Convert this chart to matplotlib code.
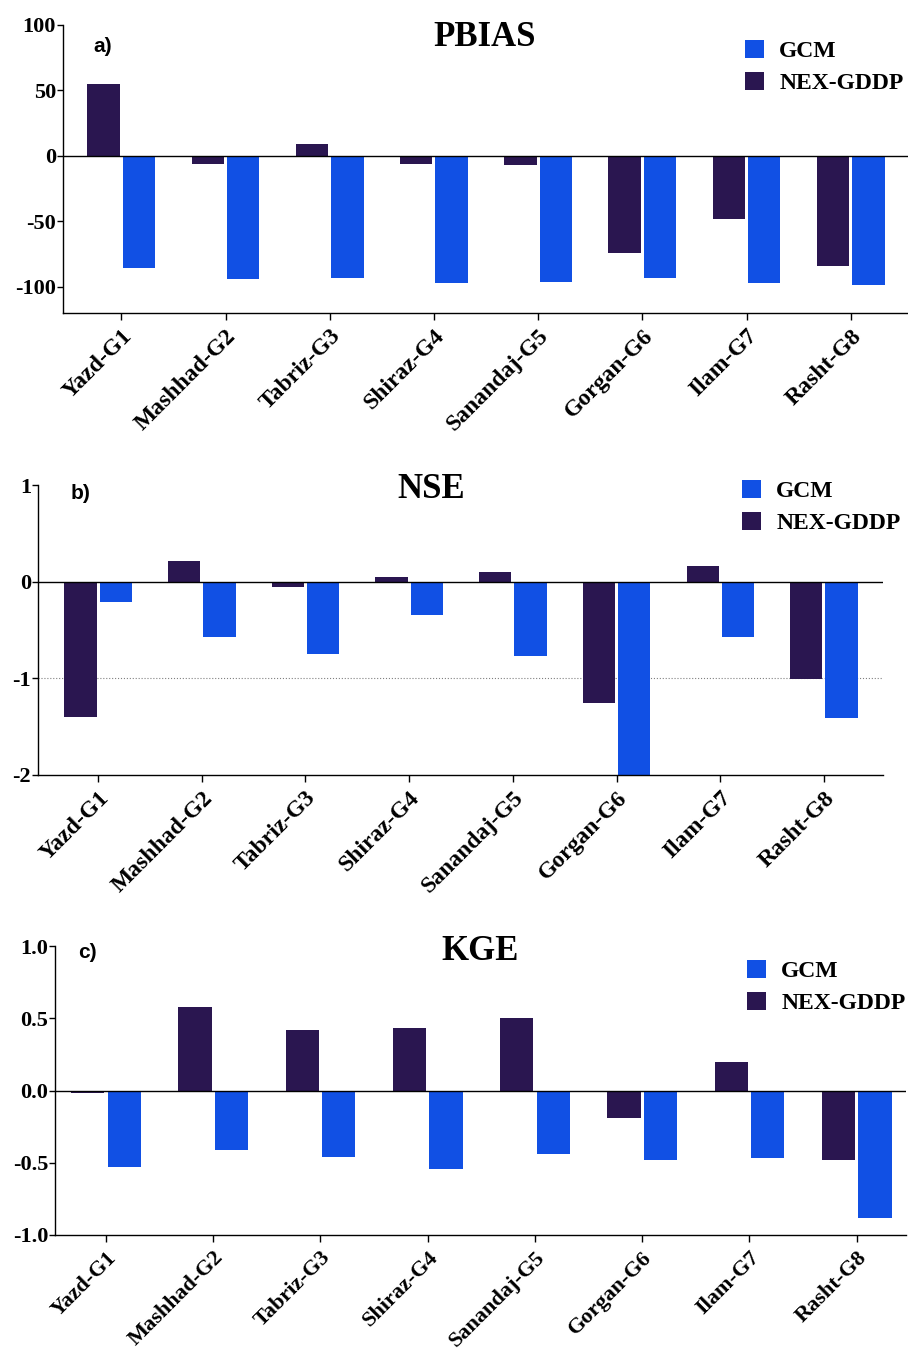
import numpy as np
import matplotlib
matplotlib.use('Agg')
import matplotlib.pyplot as plt

stations = ['Yazd-G1', 'Mashhad-G2', 'Tabriz-G3', 'Shiraz-G4',
            'Sanandaj-G5', 'Gorgan-G6', 'Ilam-G7', 'Rasht-G8']

# PBIAS
pbias_nex = [55, -6.5, 9.4, -6.5, -7, -74, -48, -84]
pbias_gcm = [-86, -94, -93.5, -97.4, -96, -93.5, -97.2, -98.4]
# NSE
nse_nex = [-1.40, 0.21, -0.05, 0.05, 0.10, -1.25, 0.16, -1.01]
nse_gcm = [-0.21, -0.57, -0.75, -0.34, -0.77, -2.0, -0.57, -1.41]
# KGE
kge_nex = [-0.02, 0.58, 0.42, 0.43, 0.50, -0.19, 0.20, -0.48]
kge_gcm = [-0.53, -0.41, -0.46, -0.54, -0.44, -0.48, -0.47, -0.88]

c_gcm = '#1150E4'
c_nex = '#2A1650'
serif = 'Liberation Serif'
sans = 'Liberation Sans'

W, H = 908, 1355
fig = plt.figure(figsize=(W / 100, H / 100), dpi=100)


def fr(x, y):
    return x / W, 1 - y / H


panels = [
    dict(box=(63, 25, 908, 313), xlim=(-0.56, 7.55), ylim=(-120, 100),
         yticks=[-100, -50, 0, 50, 100], fmt='{:.0f}', title='PBIAS',
         title_xy=(485, 37), lab='a)', lab_xy=(103, 47), leg_xy=(745, 40),
         xfs=17, nex=pbias_nex, gcm=pbias_gcm),
    dict(box=(38, 485, 883, 775), xlim=(-0.58, 7.57), ylim=(-2, 1),
         yticks=[-2, -1, 0, 1], fmt='{:.0f}', title='NSE',
         title_xy=(431, 489), lab='b)', lab_xy=(81, 494), leg_xy=(742, 480),
         xfs=17, nex=nse_nex, gcm=nse_gcm),
    dict(box=(55, 946, 906, 1235), xlim=(-0.475, 7.46), ylim=(-1, 1),
         yticks=[-1, -0.5, 0, 0.5, 1], fmt='{:.1f}', title='KGE',
         title_xy=(480, 952), lab='c)', lab_xy=(87, 953), leg_xy=(747, 960),
         xfs=16, nex=kge_nex, gcm=kge_gcm),
]

x = np.arange(len(stations))
w = 0.31
off = 0.17

for i, p in enumerate(panels):
    l, t, r, b = p['box']
    ax = fig.add_axes([l / W, 1 - b / H, (r - l) / W, (b - t) / H])
    ax.bar(x - off, p['nex'], w, color=c_nex, label='NEX-GDDP', zorder=2)
    ax.bar(x + off, p['gcm'], w, color=c_gcm, label='GCM', zorder=2)
    ax.axhline(0, color='black', lw=1.0, zorder=3)
    if i == 1:
        ax.axhline(-1, color='gray', lw=0.8, ls=':', zorder=1)
    ax.set_xlim(*p['xlim'])
    ax.set_ylim(*p['ylim'])
    ax.spines['top'].set_visible(False)
    ax.spines['right'].set_visible(False)
    ax.spines['left'].set_linewidth(1.0)
    ax.spines['bottom'].set_linewidth(1.0)
    ax.set_yticks(p['yticks'])
    ax.set_yticklabels([p['fmt'].format(v) for v in p['yticks']],
                       fontfamily=serif, fontweight='bold', fontsize=16)
    ax.set_xticks(x)
    ax.set_xticklabels(stations, rotation=45, ha='right', rotation_mode='anchor',
                       fontfamily=serif, fontweight='bold', fontsize=p['xfs'])
    ax.tick_params(axis='x', length=5, width=1, pad=4)
    ax.tick_params(axis='y', length=4, width=1, pad=1)

    tx, ty = fr(*p['title_xy'])
    fig.text(tx, ty, p['title'], ha='center', va='center', fontfamily=serif,
             fontweight='bold', fontsize=25)
    lx, ly = fr(*p['lab_xy'])
    fig.text(lx, ly, p['lab'], ha='center', va='center', fontfamily=sans,
             fontweight='bold', fontsize=15)

    h, lb = ax.get_legend_handles_labels()
    gx, gy = fr(*p['leg_xy'])
    ax.legend(h[::-1], lb[::-1], loc='upper left', bbox_to_anchor=(gx, gy),
              bbox_transform=fig.transFigure, frameon=False, borderpad=0,
              borderaxespad=0, handlelength=0.8, handleheight=0.8,
              handletextpad=0.65, labelspacing=0.4,
              prop=dict(family=serif, weight='bold', size=17))

fig.savefig('out.png', dpi=100)
